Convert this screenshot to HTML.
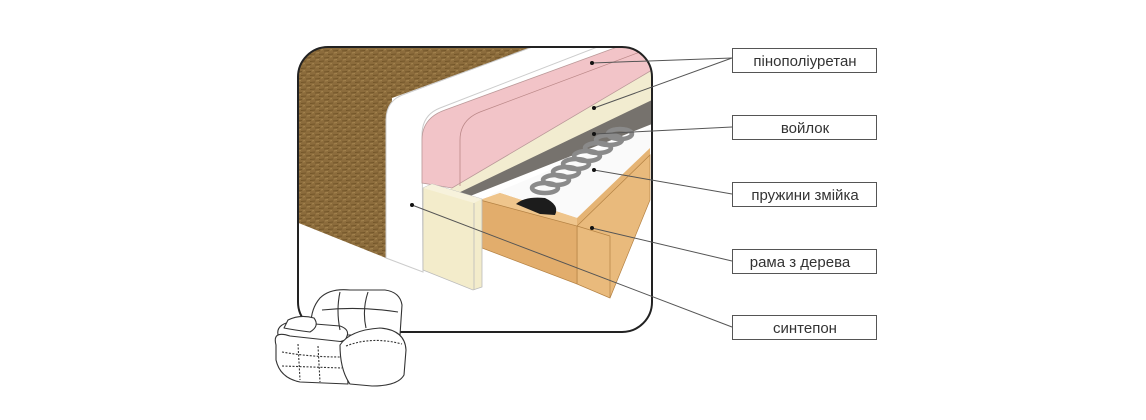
<!DOCTYPE html>
<html><head><meta charset="utf-8"><style>
html,body{margin:0;padding:0;background:#fff;width:1146px;height:420px;overflow:hidden}
text{font-family:"Liberation Sans","DejaVu Sans",sans-serif;font-size:15px;fill:#333}
</style></head><body>
<svg width="1146" height="420" viewBox="0 0 1146 420" xmlns="http://www.w3.org/2000/svg">
<defs>
<clipPath id="c"><rect x="298" y="47" width="354" height="285" rx="30"/></clipPath>
<pattern id="br" width="9" height="7" patternUnits="userSpaceOnUse">
<rect width="9" height="7" fill="#8c6c3c"/><path d="M0 2 L5 1.5 M4 5.5 L9 5" stroke="#735629" stroke-width="1"/><path d="M1 4 L4 3.5 M6 1 L8 0.5" stroke="#a5854f" stroke-width="1"/></pattern>
</defs>
<g clip-path="url(#c)">
<rect x="298" y="47" width="354" height="285" fill="#fff"/>
<polygon points="296,46 535,46 392,98 386,258 296,222" fill="url(#br)"/>
<path d="M535,46 L600,46 L440,108 Q422,115 422,135 L423,272 L386,258 L386,120 Q386,100 405,94 Z" fill="#fff" stroke="#ccc" stroke-width="1"/>
<polygon points="652,95 652,124 455,202 450,192" fill="#76726d"/>
<polygon points="652,62 652,100 452,196 450,186" fill="#f2ecd0"/>
<path d="M652,46 L652,70 L452,188 L422,183 L422,140 Q422,118 445,110 L620,46 Z" fill="#f2c4c8" stroke="#b99" stroke-width="0.8"/>
<path d="M460,186 L460,140 Q460,120 480,112 L640,52" fill="none" stroke="#b88" stroke-width="0.8"/>
<polygon points="490,195 650,128 650,150 577,224" fill="#fafafa"/>
<g fill="none" stroke="#8a8a8a" stroke-width="4.5">
<ellipse cx="545" cy="188" rx="13" ry="5"/><ellipse cx="556" cy="180" rx="13" ry="5"/><ellipse cx="566" cy="172" rx="13" ry="5"/>
<ellipse cx="576" cy="164" rx="13" ry="5"/><ellipse cx="587" cy="156" rx="13" ry="5"/><ellipse cx="598" cy="148" rx="13" ry="5"/>
<ellipse cx="609" cy="140" rx="13" ry="5"/><ellipse cx="620" cy="134" rx="12" ry="5"/>
</g>
<polygon points="480,200 500,193 577,218 650,148 650,200 610,298 577,284 482,248" fill="#e5b475"/>
<polygon points="480,200 500,193 577,218 577,226" fill="#efc58c"/>
<polygon points="577,226 650,155 650,200 610,298 577,284" fill="#e9ba7c" stroke="#b48244" stroke-width="0.7"/>
<polygon points="480,200 577,226 577,284 482,248" fill="#e2ad6c" stroke="#b48244" stroke-width="0.7"/>
<line x1="577" y1="226" x2="610" y2="236" stroke="#b48244" stroke-width="0.7"/>
<line x1="610" y1="236" x2="610" y2="298" stroke="#b48244" stroke-width="0.7"/>
<path d="M516,204 Q525,196 545,198 Q560,205 555,215 L540,214 Z" fill="#1c1c1c"/>
<polygon points="423,188 432,184 482,199 482,287 473,290 423,270" fill="#f3eccb" stroke="#bbb" stroke-width="0.8"/>
<polygon points="423,188 432,184 482,199 474,203" fill="#f7f2dc"/>
<line x1="474" y1="203" x2="474" y2="290" stroke="#bbb" stroke-width="0.8"/>
</g>
<rect x="298" y="47" width="354" height="285" rx="30" fill="none" stroke="#222" stroke-width="2"/>
<!-- sofa icon -->
<g fill="#fff" stroke="#333" stroke-width="1.1" stroke-linejoin="round">
<path d="M312,335 Q308,312 320,298 Q330,288 350,290 L385,290 Q400,292 402,305 L400,335 Z"/>
<path d="M278,335 Q276,325 290,322 L340,326 Q352,330 345,340 Q330,346 300,345 Z"/>
<path d="M276,345 Q272,330 290,336 L345,342 L348,384 L300,382 Q280,378 276,360 Z"/>
<path d="M340,345 Q350,330 380,328 Q405,330 406,350 L404,375 Q398,386 372,386 L350,384 Q340,370 340,345 Z"/>
<path d="M288,320 Q300,314 314,318 Q320,326 310,332 Q294,330 284,328 Z"/>
<path d="M340,292 Q336,310 340,330 M368,292 Q362,310 366,328 M322,310 Q360,306 398,312" fill="none"/>
<path d="M282,352 Q310,357 340,357 M282,366 L342,368 M298,344 L300,380 M318,346 L320,382" fill="none" stroke-dasharray="2 1.5"/>
<path d="M346,346 Q372,336 402,344" fill="none" stroke-dasharray="2 1.5"/>
</g>
<g stroke="#555" stroke-width="1" fill="none">
<line x1="592" y1="63" x2="732" y2="58"/>
<line x1="594" y1="108" x2="732" y2="58"/>
<line x1="594" y1="134" x2="732" y2="127"/>
<line x1="594" y1="170" x2="732" y2="194"/>
<line x1="592" y1="228" x2="732" y2="261"/>
<line x1="412" y1="205" x2="732" y2="327"/>
</g>
<g fill="#111">
<circle cx="592" cy="63" r="2"/><circle cx="594" cy="108" r="2"/><circle cx="594" cy="134" r="2"/>
<circle cx="594" cy="170" r="2"/><circle cx="592" cy="228" r="2"/><circle cx="412" cy="205" r="2"/>
</g>
<g fill="#fff" stroke="#555" stroke-width="1">
<rect x="732.5" y="48.5" width="144" height="24"/>
<rect x="732.5" y="115.5" width="144" height="24"/>
<rect x="732.5" y="182.5" width="144" height="24"/>
<rect x="732.5" y="249.5" width="144" height="24"/>
<rect x="732.5" y="315.5" width="144" height="24"/>
</g>
<g text-anchor="middle">
<text x="805" y="66">пінополіуретан</text>
<text x="805" y="133">войлок</text>
<text x="805" y="200">пружини змійка</text>
<text x="800" y="267">рама з дерева</text>
<text x="805" y="333">синтепон</text>
</g>
</svg>
</body></html>
